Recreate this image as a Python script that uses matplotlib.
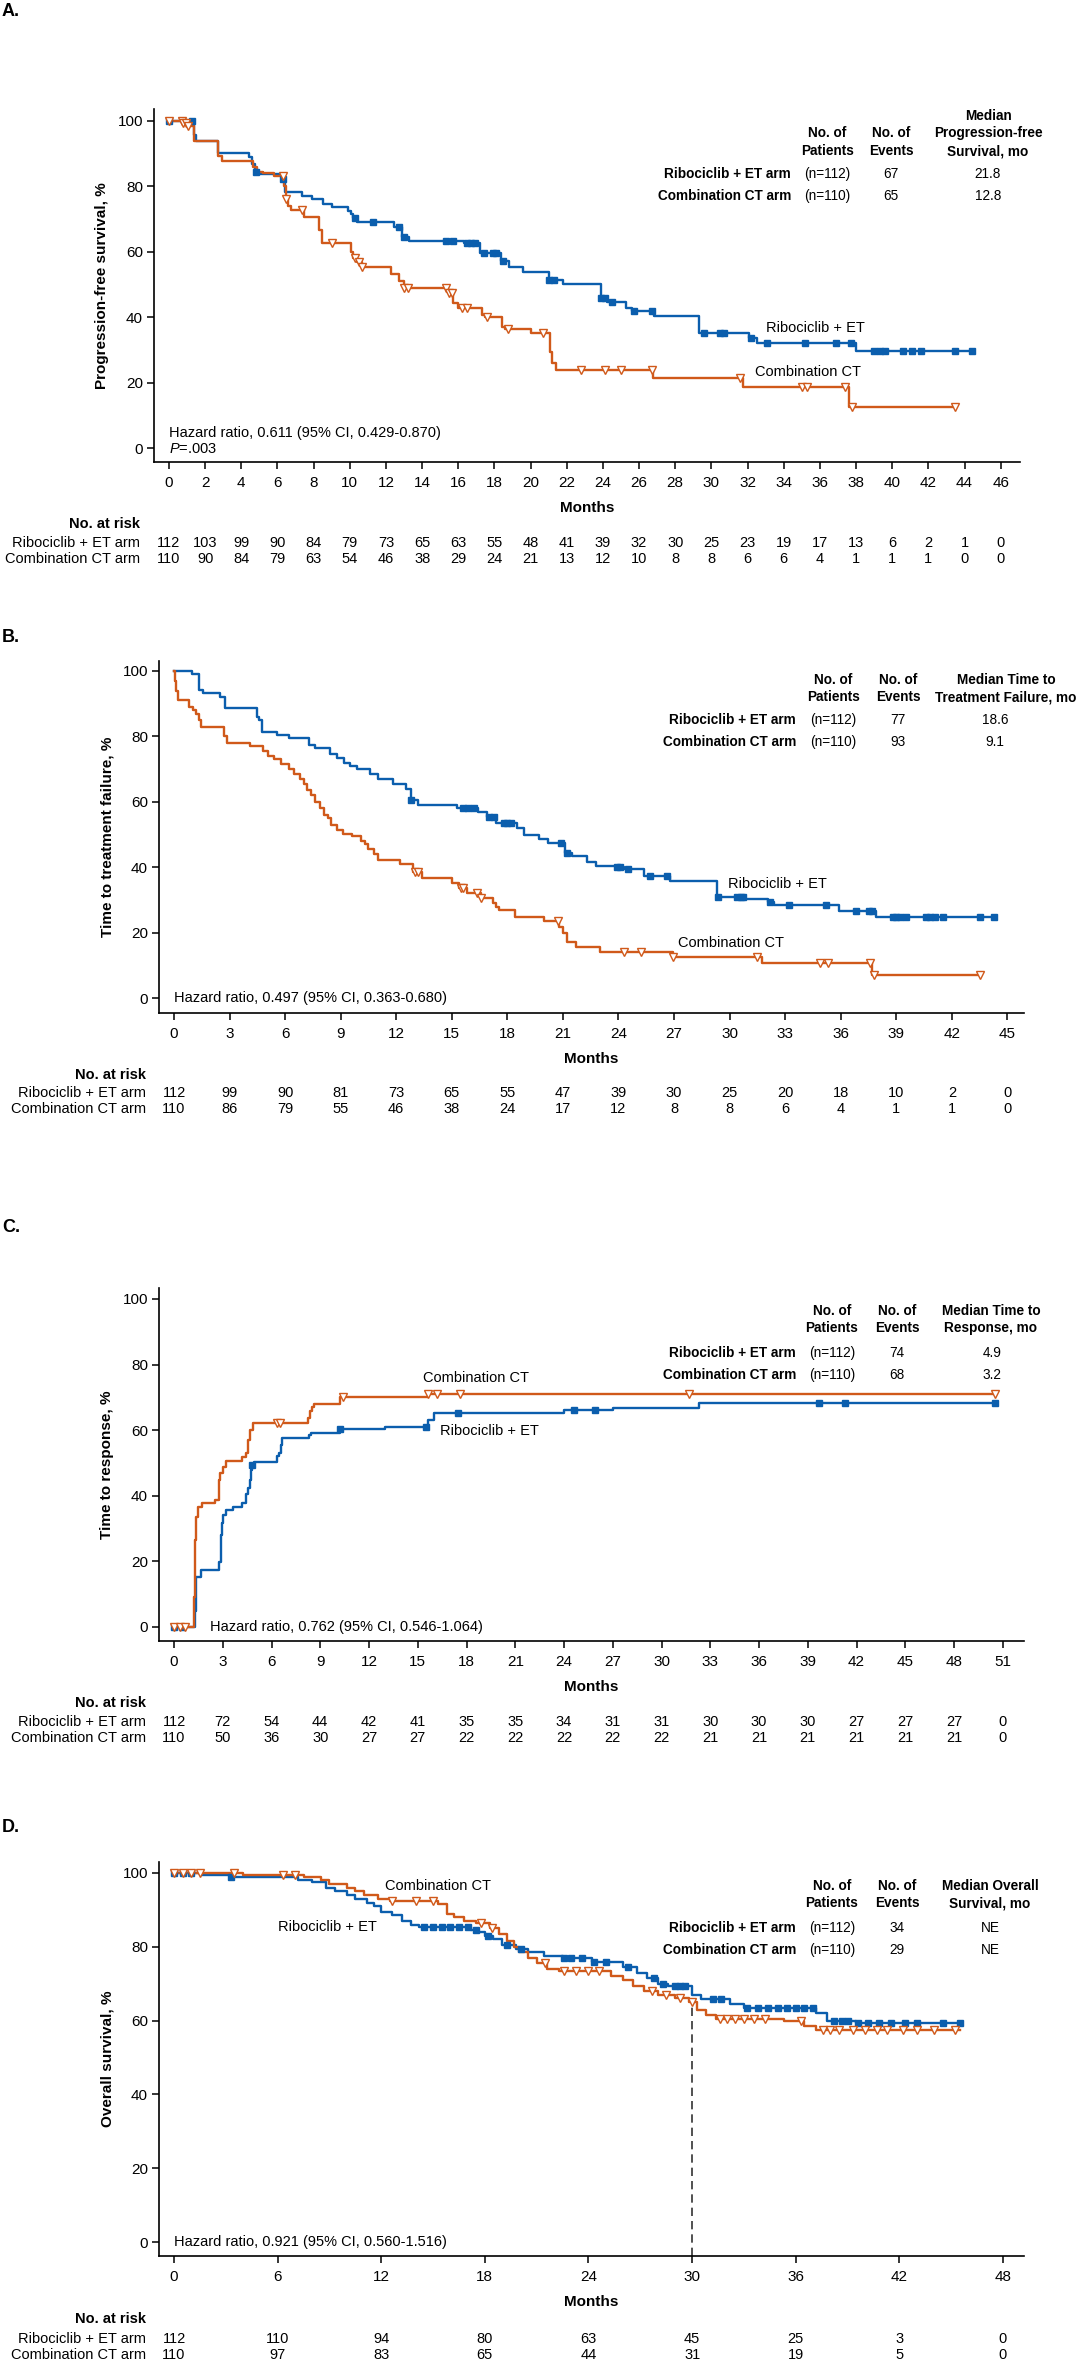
import matplotlib
matplotlib.use("Agg")
import matplotlib.pyplot as plt
import matplotlib.transforms as mtransforms
from matplotlib import font_manager
import numpy as np

names = {f.name for f in font_manager.fontManager.ttflist}
BASE = "Liberation Sans" if "Liberation Sans" in names else "DejaVu Sans"
plt.rcParams["font.family"] = [BASE, "DejaVu Sans"]
plt.rcParams["mathtext.fontset"] = "custom"
plt.rcParams["mathtext.rm"] = BASE
plt.rcParams["mathtext.it"] = BASE + ":italic"

BLUE = "#0B5EAD"
ORANGE = "#D0591A"
W, H = 1080, 2365

# ---------------- data ----------------
arms = ["Ribociclib + ET arm", "Combination CT arm"]

# A. progression-free survival
a_ticks = list(range(0, 47, 2))
a_risk_rib = [112, 103, 99, 90, 84, 79, 73, 65, 63, 55, 48, 41, 39, 32, 30, 25, 23, 19, 17, 13, 6, 2, 1, 0]
a_risk_cct = [110, 90, 84, 79, 63, 54, 46, 38, 29, 24, 21, 13, 12, 10, 8, 8, 6, 6, 4, 1, 1, 1, 0, 0]
a_rib_t = [0, 1.4, 1.5, 2.7, 4.44, 4.6, 4.75, 5.0, 6.26, 6.4, 7.37, 7.93, 8.5, 9.04, 9.9, 10.05, 10.15, 10.4,
           12.46, 12.9, 13.3, 16.3, 17.2, 18.35, 18.8, 19.6, 21.0, 21.8, 23.9, 24.2, 25.25, 25.6, 26.8, 29.3,
           32.1, 32.5, 38.0]
a_rib_s = [100, 95.7, 94, 90.3, 89, 87, 84.5, 83.7, 82.3, 78.2, 77.2, 76.2, 74.5, 73.7, 72.6, 71.5, 70.3, 69.2,
           67.5, 64.4, 63.4, 62.6, 59.5, 57.2, 55.5, 53.9, 51.4, 50.1, 45.9, 44.5, 42.9, 41.9, 40.4, 35.2,
           33.7, 32.2, 29.8]
a_rib_end = 44.4
a_rib_cens = [0, 1.26, 4.8, 6.3, 10.3, 11.3, 12.7, 13.0, 15.3, 15.7, 16.5, 16.7, 16.9, 17.45, 17.9, 18.1, 18.45,
              21.0, 21.3, 23.9, 24.1, 24.5, 25.7, 26.7, 29.6, 30.5, 30.7, 32.2, 33.1, 35.2, 36.9, 37.7, 39.0,
              39.3, 39.6, 40.6, 41.1, 41.6, 43.5, 44.4]
a_cct_t = [0, 0.8, 1.0, 1.38, 2.7, 2.95, 4.65, 4.85, 5.2, 5.8, 6.35, 6.45, 6.6, 6.75, 7.45, 8.3, 8.45, 10.04,
           10.2, 10.4, 10.65, 12.27, 12.74, 13.0, 15.45, 15.7, 16.0, 17.3, 17.5, 18.4, 18.6, 20.0, 21.05, 21.2,
           21.4, 26.75, 31.75, 37.6]
a_cct_s = [100, 99.3, 98.6, 94, 89.4, 87.7, 86, 84.5, 84, 83.2, 80, 76, 74, 72.8, 70.5, 66.7, 62.6, 60,
           58, 57, 55.5, 53.2, 51, 48.8, 47.3, 44.2, 42.8, 40.7, 40.0, 37.1, 36.3, 35.1, 29.5, 25.9,
           23.9, 21.3, 18.6, 12.5]
a_cct_end = 43.5
a_cct_cens = [0, 0.7, 0.8, 0.95, 1.05, 6.3, 6.45, 7.36, 9.03, 10.3, 10.5, 10.7, 13.0, 13.2, 15.3, 15.5, 15.65,
              16.2, 16.5, 17.6, 18.74, 20.7, 22.8, 24.1, 25.0, 26.7, 31.6, 35.0, 35.3, 37.4, 37.8, 43.5]

# B. time to treatment failure
b_ticks = list(range(0, 46, 3))
b_risk_rib = [112, 99, 90, 81, 73, 65, 55, 47, 39, 30, 25, 20, 18, 10, 2, 0]
b_risk_cct = [110, 86, 79, 55, 46, 38, 24, 17, 12, 8, 8, 6, 4, 1, 1, 0]
b_rib_t = [0, 0.98, 1.35, 1.57, 2.5, 2.75, 4.46, 4.6, 4.75, 5.57, 6.2, 7.3, 7.6, 8.4, 8.8, 9.2, 9.5, 9.9, 10.6,
           11.0, 11.8, 12.5, 12.8, 13.2, 15.3, 16.4, 16.9, 17.4, 18.5, 18.9, 19.7, 20.2, 21.1, 21.5, 22.3, 22.8,
           23.9, 24.3, 25.4, 26.8, 29.3, 30.8, 32.1, 32.4, 35.9, 37.9]
b_rib_s = [100, 99.0, 94.2, 93.2, 92.1, 88.6, 86, 85, 81.4, 80.4, 79.4, 77.5, 76.5, 74.5, 73.5, 72, 71, 70, 68.5,
           67, 65.5, 64, 60.5, 59, 58.2, 57, 55.5, 53.5, 52, 50, 48.5, 47.3, 44.3, 43.5, 41.5, 40.5,
           40.2, 39.4, 37.3, 35.9, 31.0, 30.2, 29.5, 28.4, 26.7, 24.9]
b_rib_end = 44.3
b_rib_cens = [12.8, 15.6, 15.9, 16.2, 17.0, 17.3, 17.8, 18.0, 18.2, 20.9, 21.2, 23.9, 24.1, 24.5, 25.7, 26.6,
              29.4, 30.4, 30.6, 30.7, 32.2, 33.2, 35.2, 36.8, 37.5, 37.7, 38.8, 39.0, 39.2, 39.5, 40.6, 40.8,
              41.1, 41.5, 43.5, 44.3]
b_cct_t = [0, 0.05, 0.12, 0.22, 0.8, 1.0, 1.2, 1.35, 1.48, 2.7, 2.85, 4.1, 4.8, 5.1, 5.4, 5.8, 6.2, 6.5, 6.8,
           7.0, 7.2, 7.4, 7.6, 7.9, 8.1, 8.3, 8.5, 8.8, 9.1, 9.6, 10.1, 10.3, 10.5, 10.8, 11.0, 12.2, 12.9,
           13.4, 15.0, 15.4, 15.8, 16.6, 17.2, 17.4, 17.57, 18.4, 20.0, 20.8, 21.0, 21.2, 21.7, 23.0, 26.95,
           31.75, 37.7]
b_cct_s = [100, 97, 94, 91, 89.1, 88.1, 87, 85, 82.9, 80, 78, 77.2, 75.5, 74, 73, 71.5, 70, 68.5, 67,
           65.5, 63.5, 62, 60, 58, 56, 55, 53, 51.5, 50.3, 49.5, 48, 47, 45.5, 44, 42.2, 41.0, 38.6,
           36.6, 35.1, 33.5, 32.0, 30.5, 29.2, 27.9, 26.9, 24.9, 23.4, 21.8, 19.8, 17.2, 15.5, 14.2, 12.6,
           10.8, 7.0]
b_cct_end = 43.5
b_cct_cens = [13.0, 13.2, 15.5, 15.6, 16.35, 16.6, 20.75, 24.3, 25.2, 26.95, 31.5, 34.9, 35.3, 37.6, 37.8, 43.5]

# C. time to response (cumulative)
c_ticks = list(range(0, 52, 3))
c_risk_rib = [112, 72, 54, 44, 42, 41, 35, 35, 34, 31, 31, 30, 30, 30, 27, 27, 27, 0]
c_risk_cct = [110, 50, 36, 30, 27, 27, 22, 22, 22, 22, 22, 21, 21, 21, 21, 21, 21, 0]
c_rib_t = [0, 1.3, 1.37, 1.68, 2.77, 2.9, 2.95, 3.02, 3.2, 3.6, 4.2, 4.45, 4.55, 4.65, 4.72, 4.8, 4.91, 6.35,
           6.45, 6.6, 6.67, 8.3, 8.45, 10.2, 13.0, 15.6, 16.0, 24.0, 27.0, 32.3]
c_rib_s = [0, 5, 15.3, 17.4, 19.9, 28, 31.6, 34.1, 35.7, 36.7, 37.7, 40.7, 42.3, 44.8, 47.9, 49.4, 50.4, 52.1,
           53, 55.5, 57.5, 58.5, 59.2, 60.3, 61.1, 63.1, 65.1, 66.2, 66.9, 68.2]
c_rib_end = 50.5
c_rib_cens = [0, 0.5, 4.8, 10.2, 15.5, 17.5, 24.6, 25.9, 39.7, 41.3, 50.5]
c_cct_t = [0, 1.2, 1.3, 1.38, 1.5, 1.72, 2.55, 2.75, 2.85, 2.99, 3.2, 4.2, 4.4, 4.55, 4.7, 4.87, 8.26, 8.37,
           8.5, 8.6, 10.2, 15.6]
c_cct_s = [0, 9, 26.5, 33.6, 36.7, 37.8, 38.7, 44.8, 47, 48.9, 50.7, 51.9, 53, 57, 60.1, 62.3, 63.6, 65.9,
           67, 67.9, 70.2, 71.0]
c_cct_end = 50.5
c_cct_cens = [0, 0.35, 0.7, 6.35, 6.5, 10.4, 15.6, 16.2, 17.6, 31.7, 50.5]

# D. overall survival
d_ticks = list(range(0, 49, 6))
d_risk_rib = [112, 110, 94, 80, 63, 45, 25, 3, 0]
d_risk_cct = [110, 97, 83, 65, 44, 31, 19, 5, 0]
d_rib_t = [0, 1.5, 3.3, 7.2, 8.0, 8.8, 9.3, 10.0, 10.5, 11.2, 11.6, 12.0, 12.6, 13.2, 13.7, 14.2, 17.2, 17.6,
           18.0, 18.5, 19.0, 19.8, 20.5, 21.4, 22.5, 24.2, 26.0, 26.8, 27.4, 28.0, 28.6, 30.0, 30.5, 32.2,
           33.0, 37.2, 37.8, 39.5]
d_rib_s = [100, 99.5, 99, 98.2, 97.5, 96, 95, 94, 93, 92, 91, 89.5, 88.5, 87, 86, 85.4, 84.6, 84,
           83, 82, 80.5, 79.5, 78.5, 77.5, 77, 76, 74.5, 73, 71.5, 70, 69.5, 67, 65.8, 64.5,
           63.5, 62, 60, 59.3]
d_rib_end = 45.5
d_rib_cens = [0, 0.5, 1.0, 3.3, 14.5, 15.0, 15.5, 16.0, 16.5, 17.0, 17.5, 18.2, 19.3, 20.1, 22.6, 23.0, 23.6,
              24.3, 25.0, 26.3, 27.8, 28.3, 29.0, 29.3, 29.6, 31.2, 31.7, 33.2, 33.8, 34.4, 35.0, 35.5, 36.0,
              36.5, 37.0, 38.2, 38.7, 39.0, 39.6, 40.2, 40.8, 41.5, 42.3, 43.0, 44.5, 45.5]
d_cct_t = [0, 4.0, 7.5, 8.5, 9.0, 10.0, 10.5, 11.0, 11.8, 12.5, 15.3, 15.8, 16.2, 16.8, 17.5, 18.3, 18.8, 19.3,
           19.7, 20.0, 20.5, 21.0, 21.6, 22.3, 25.3, 26.0, 26.6, 27.2, 28.0, 29.0, 29.8, 30.3, 30.8, 31.4,
           35.3, 36.5, 37.2]
d_cct_s = [100, 99.5, 98.8, 98, 97, 96, 95, 94, 93, 92.5, 91.5, 89, 88, 87, 86.5, 85, 83.5, 81.5,
           80, 78.5, 77, 75.5, 74, 73.5, 72, 71, 69.5, 68, 67, 66, 65, 63, 61.5, 60.5,
           60, 58.5, 57.5]
d_cct_end = 45.5
d_cct_cens = [0, 0.5, 1.0, 1.5, 3.5, 6.3, 7.0, 12.6, 14.0, 15.0, 17.8, 18.4, 21.5, 22.6, 23.3, 24.0, 24.6,
              27.7, 28.5, 29.3, 30.0, 31.6, 32.0, 32.5, 33.0, 33.6, 34.2, 36.3, 37.6, 38.0, 38.5, 39.3, 40.0,
              40.7, 41.3, 42.2, 43.0, 44.0, 45.2]
d_followup = 30

hr_texts = ["Hazard ratio, 0.611 (95% CI, 0.429-0.870)",
            "Hazard ratio, 0.497 (95% CI, 0.363-0.680)",
            "Hazard ratio, 0.762 (95% CI, 0.546-1.064)",
            "Hazard ratio, 0.921 (95% CI, 0.560-1.516)"]
ylabels = ["Progression-free survival, %", "Time to treatment failure, %",
           "Time to response, %", "Overall survival, %"]
median_heads = [["Median", "Progression-free", "Survival, mo"],
                ["Median Time to", "Treatment Failure, mo"],
                ["Median Time to", "Response, mo"],
                ["Median Overall", "Survival, mo"]]
n_patients = ["(n=112)", "(n=110)"]
events = [["67", "65"], ["77", "93"], ["74", "68"], ["34", "29"]]
medians = [["21.8", "12.8"], ["18.6", "9.1"], ["4.9", "3.2"], ["NE", "NE"]]

FS = 10.5
HFS = 9.8
fig = plt.figure(figsize=(W / 100, H / 100), dpi=100)


def ftxt(x, y, s, **kw):
    kw.setdefault("fontsize", FS)
    return fig.text(x / W, 1 - y / H, s, **kw)


def make_axes(box, x0px, pxmo, y100, y0, ticks):
    l, t, r, b = box
    ax = fig.add_axes([l / W, 1 - b / H, (r - l) / W, (b - t) / H])
    ax.set_xlim((l - x0px) / pxmo, (r - x0px) / pxmo)
    per = (y0 - y100) / 100
    ax.set_ylim((y0 - b) / per, (y0 - t) / per)
    for s in ["top", "right"]:
        ax.spines[s].set_visible(False)
    for s in ["left", "bottom"]:
        ax.spines[s].set_linewidth(1.2)
    ax.set_xticks(ticks)
    ax.set_yticks([0, 20, 40, 60, 80, 100])
    ax.tick_params(direction="out", length=5, width=1.1, labelsize=FS + 0.5, pad=3)
    ax.tick_params(axis="x", pad=5)
    return ax


def km(ax, t, s, end, cens, color, marker, mfc, ms):
    tt = list(t) + [end]
    ss = list(s) + [s[-1]]
    ax.step(tt, ss, where="post", color=color, lw=1.7, zorder=3)
    ct = np.array(cens, dtype=float)
    idx = np.searchsorted(np.array(t), ct, side="right") - 1
    cy = np.array(s)[idx]
    ax.plot(ct, cy, ls="none", marker=marker, ms=ms, mfc=mfc, mec=color, mew=1.0,
            zorder=4, clip_on=False)


def risk_table(ax, ticks, r1, r2, y_head, y1, y2, xlab):
    tr = mtransforms.blended_transform_factory(ax.transData, fig.transFigure)
    ftxt(xlab, y_head, "No. at risk", ha="right", va="center", fontweight="bold")
    ftxt(xlab, y1, arms[0], ha="right", va="center")
    ftxt(xlab, y2, arms[1], ha="right", va="center")
    for x, a, b in zip(ticks, r1, r2):
        ax.text(x, 1 - y1 / H, str(a), transform=tr, ha="center", va="center", fontsize=FS)
        ax.text(x, 1 - y2 / H, str(b), transform=tr, ha="center", va="center", fontsize=FS)


def header_table(i, y_lines, y_rows, cols, xlab):
    heads = median_heads[i]
    n = len(heads)
    top = y_lines[-2:]
    kw = dict(ha="center", va="center", fontweight="bold", fontsize=HFS)
    ftxt(cols[0], top[0], "No. of", **kw)
    ftxt(cols[0], top[1], "Patients", **kw)
    ftxt(cols[1], top[0], "No. of", **kw)
    ftxt(cols[1], top[1], "Events", **kw)
    for k, line in enumerate(heads):
        ftxt(cols[3], y_lines[len(y_lines) - n + k], line, **kw)
    for r in range(2):
        ftxt(xlab, y_rows[r], arms[r], ha="right", va="center", fontweight="bold", fontsize=HFS)
        ftxt(cols[0], y_rows[r], n_patients[r], ha="center", va="center", fontsize=HFS)
        ftxt(cols[1], y_rows[r], events[i][r], ha="center", va="center", fontsize=HFS)
        ftxt(cols[2], y_rows[r], medians[i][r], ha="center", va="center", fontsize=HFS)


# ---------------- panel A ----------------
ftxt(2, 12, "A.", fontsize=13, fontweight="bold", va="center")
axA = make_axes((154, 109, 1020, 462), 169, 18.08, 121, 448, a_ticks)
km(axA, a_rib_t, a_rib_s, a_rib_end, a_rib_cens, BLUE, "s", BLUE, 4)
km(axA, a_cct_t, a_cct_s, a_cct_end, a_cct_cens, ORANGE, "v", "white", 5.5)
axA.text(33.0, 36.7, "Ribociclib + ET", fontsize=FS, va="center")
axA.text(32.4, 23.2, "Combination CT", fontsize=FS, va="center")
axA.text(0, 4.6, hr_texts[0], fontsize=FS, va="center")
axA.text(0, -0.3, "$\\mathit{P}$=.003", fontsize=FS, va="center")
axA.set_ylabel(ylabels[0], fontsize=FS + 0.5, fontweight="bold", labelpad=6)
ftxt(587, 508, "Months", ha="center", va="center", fontweight="bold", fontsize=FS + 0.5)
risk_table(axA, a_ticks, a_risk_rib, a_risk_cct, 524, 543, 559, 140)
header_table(0, [116, 133, 151], [174, 196], [827, 891, 988, 988], 791)

# ---------------- panel B ----------------
ftxt(2, 637, "B.", fontsize=13, fontweight="bold", va="center")
axB = make_axes((159, 661, 1024, 1013), 174, 18.52, 671, 998, b_ticks)
km(axB, b_rib_t, b_rib_s, b_rib_end, b_rib_cens, BLUE, "s", BLUE, 4)
km(axB, b_cct_t, b_cct_s, b_cct_end, b_cct_cens, ORANGE, "v", "white", 5.5)
axB.text(29.9, 35.0, "Ribociclib + ET", fontsize=FS, va="center")
axB.text(27.2, 16.7, "Combination CT", fontsize=FS, va="center")
axB.text(0, 0, hr_texts[1], fontsize=FS, va="center")
axB.set_ylabel(ylabels[1], fontsize=FS + 0.5, fontweight="bold", labelpad=6)
ftxt(591, 1059, "Months", ha="center", va="center", fontweight="bold", fontsize=FS + 0.5)
risk_table(axB, b_ticks, b_risk_rib, b_risk_cct, 1075, 1093, 1109, 146)
header_table(1, [680, 697], [720, 742], [833, 898, 995, 1006], 796)

# ---------------- panel C ----------------
ftxt(2, 1228, "C.", fontsize=13, fontweight="bold", va="center")
axC = make_axes((159, 1288, 1024, 1641), 174, 16.25, 1299, 1627, c_ticks)
km(axC, c_rib_t, c_rib_s, c_rib_end, c_rib_cens, BLUE, "s", BLUE, 4)
km(axC, c_cct_t, c_cct_s, c_cct_end, c_cct_cens, ORANGE, "v", "white", 5.5)
axC.text(15.3, 75.9, "Combination CT", fontsize=FS, va="center")
axC.text(16.4, 59.8, "Ribociclib + ET", fontsize=FS, va="center")
axC.text(2.2, 0, hr_texts[2], fontsize=FS, va="center")
axC.set_ylabel(ylabels[2], fontsize=FS + 0.5, fontweight="bold", labelpad=6)
ftxt(591, 1687, "Months", ha="center", va="center", fontweight="bold", fontsize=FS + 0.5)
risk_table(axC, c_ticks, c_risk_rib, c_risk_cct, 1703, 1722, 1738, 146)
header_table(2, [1311, 1328], [1353, 1375], [832, 897, 992, 991], 796)

# ---------------- panel D ----------------
ftxt(2, 1828, "D.", fontsize=13, fontweight="bold", va="center")
axD = make_axes((159, 1862, 1024, 2256), 174, 17.27, 1873, 2242, d_ticks)
km(axD, d_rib_t, d_rib_s, d_rib_end, d_rib_cens, BLUE, "s", BLUE, 4)
km(axD, d_cct_t, d_cct_s, d_cct_end, d_cct_cens, ORANGE, "v", "white", 5.5)
yb = axD.get_ylim()[0]
axD.plot([d_followup, d_followup], [yb, 66], color="#333333", lw=1.2, ls=(0, (5, 3)), zorder=2)
axD.text(12.2, 96.6, "Combination CT", fontsize=FS, va="center")
axD.text(6.0, 85.3, "Ribociclib + ET", fontsize=FS, va="center")
axD.text(0, 0, hr_texts[3], fontsize=FS, va="center")
axD.set_ylabel(ylabels[3], fontsize=FS + 0.5, fontweight="bold", labelpad=6)
ftxt(591, 2302, "Months", ha="center", va="center", fontweight="bold", fontsize=FS + 0.5)
risk_table(axD, d_ticks, d_risk_rib, d_risk_cct, 2319, 2339, 2355, 146)
header_table(3, [1886, 1903], [1928, 1950], [832, 897, 990, 990], 796)

fig.savefig("out.png", dpi=100)
